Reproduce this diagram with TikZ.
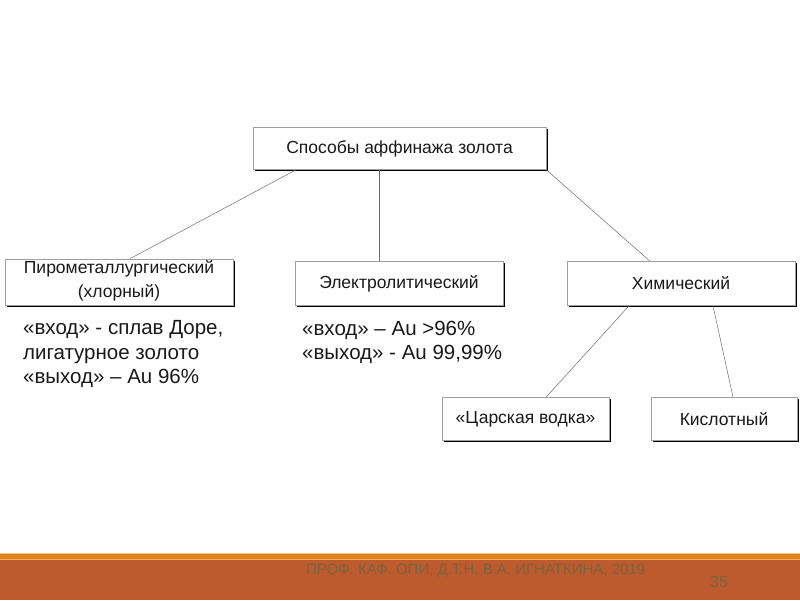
\documentclass[tikz,border=0pt]{standalone}
\usepackage{fontspec}
\setmainfont{Liberation Sans}
\usetikzlibrary{shadows}
\definecolor{rust}{HTML}{BD5A2E}
\definecolor{barorange}{HTML}{E2821F}
\definecolor{barlight}{HTML}{F6C486}
\definecolor{footgray}{HTML}{7A6440}

\begin{document}
\begin{tikzpicture}[
    x=1pt, y=-1pt, % one unit = one pixel of the slide, y runs down
    every node/.style={font=\fontsize{17.5}{23.5}\selectfont, inner sep=0pt, text=black!90},
    method box/.style={draw=gray!75, line width=0.6pt, fill=white, align=center,
        drop shadow={shadow xshift=1.8pt, shadow yshift=-1.8pt, fill=black, opacity=1}},
    link/.style={draw=gray!85!black, line width=0.5pt},
    note text/.style={align=left, anchor=north west, font=\fontsize{20.5}{24.5}\selectfont},
    foot text/.style={text=footgray, anchor=base west}
]

    \useasboundingbox (0,0) rectangle (800,600);

    % --- 1. TREE OF METHODS ---
    \node[method box, minimum width=293pt, minimum height=42pt] (top) at (399.5,148.5) {Способы аффинажа золота};

    \node[method box, minimum width=228pt, minimum height=46pt, text depth=6pt] (pyro) at (119,282) {Пирометаллургический\\(хлорный)};
    \node[method box, minimum width=208pt, minimum height=44pt] (electro) at (399,283.5) {Электролитический};
    \node[method box, minimum width=228pt, minimum height=44pt] (chem) at (681,283.5) {Химический};

    \node[method box, minimum width=167pt, minimum height=43pt] (tsar) at (525.5,419) {«Царская водка»};
    \node[method box, minimum width=146pt, minimum height=43pt] (acid) at (724,419) {Кислотный};

    % Connectors
    \draw[link] ([xshift=-103.5pt]top.south) -- ([xshift=11pt]pyro.north);
    \draw[link] ([xshift=-20.5pt]top.south) -- ([xshift=-20pt]electro.north);
    \draw[link] (top.south east) -- ([xshift=-31pt]chem.north);
    \draw[link] ([xshift=-52pt]chem.south) -- ([xshift=20.5pt]tsar.north);
    \draw[link] ([xshift=32pt]chem.south) -- ([xshift=9pt]acid.north);

    % --- 2. NOTES UNDER THE BOXES ---
    \node[note text] (pyronote) at (23,320.5) {«вход» - сплав Доре,\\лигатурное золото\\«выход» – Au 96\%};
    \node[note text] (electronote) at (302,320.5) {«вход» – Au >96\%\\«выход» - Au 99,99\%};

    % --- 3. FOOTER BAR ---
    \fill[barlight] (0,552.5) rectangle (800,554);
    \fill[barorange] (0,554) rectangle (800,559);
    \fill[barlight!60!barorange] (0,559) rectangle (800,560);
    \fill[rust] (0,560) rectangle (800,600);

    \node[foot text, font=\fontsize{15}{18}\selectfont] (author) at (306,574.5) {ПРОФ. КАФ. ОПИ, Д.Т.Н. В.А. ИГНАТКИНА, 2019};
    \node[foot text, font=\fontsize{16}{19}\selectfont] (page) at (710,587) {35};

\end{tikzpicture}
\end{document}
